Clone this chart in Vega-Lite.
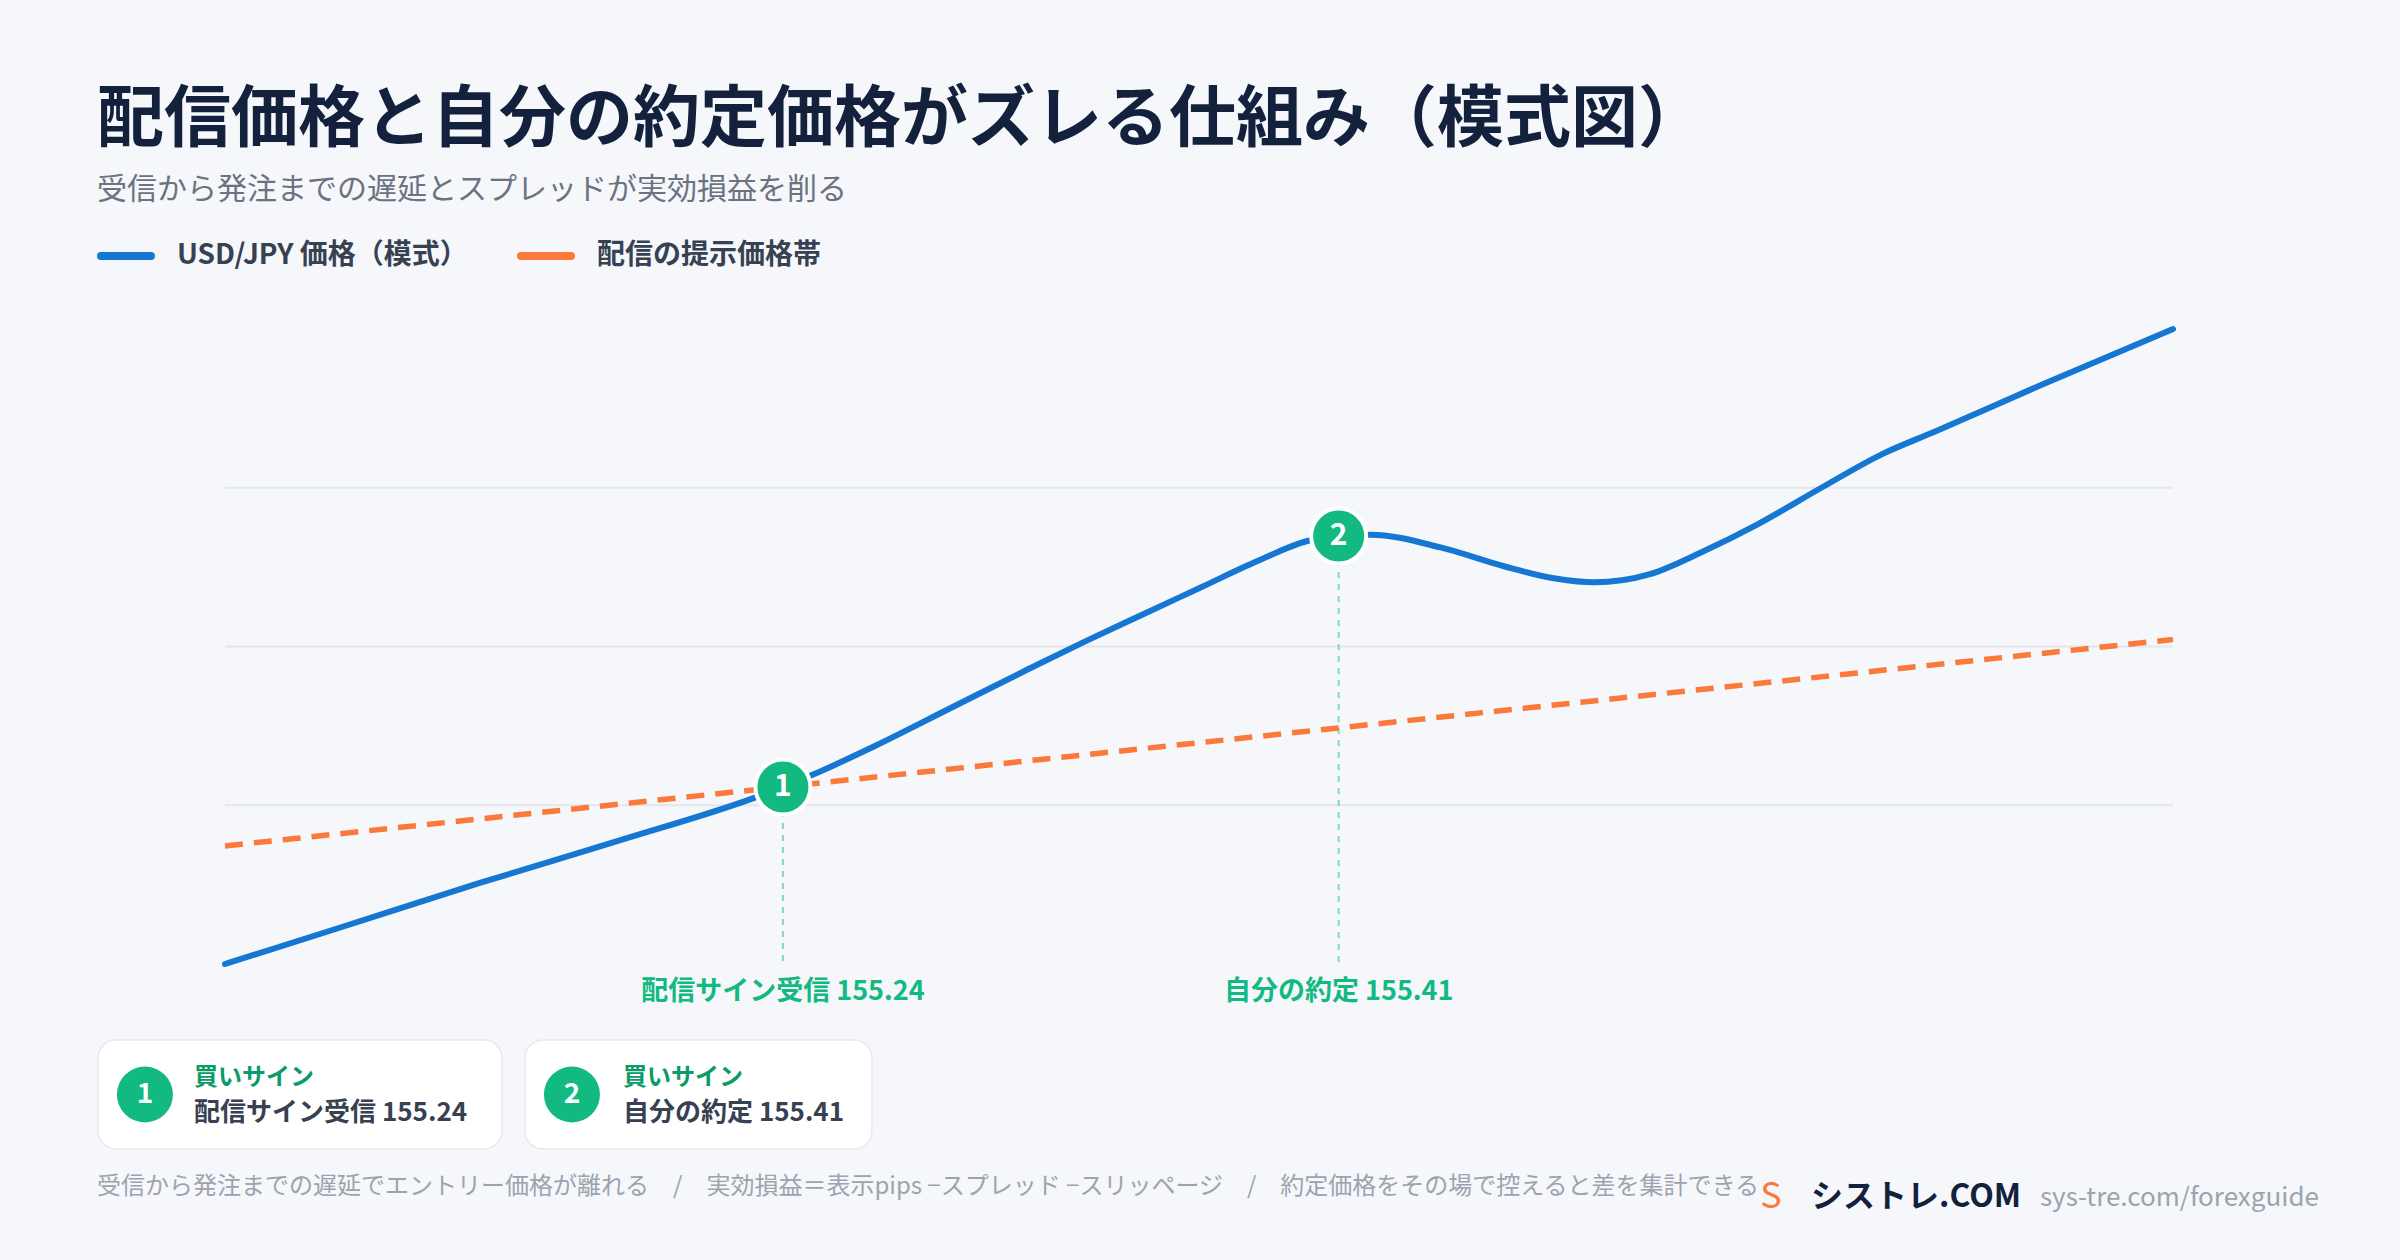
{
  "$schema": "https://vega.github.io/schema/vega-lite/v6.json",
  "width": 2223,
  "height": 940,
  "padding": {"left": 97, "top": 87, "right": 80, "bottom": 20},
  "background": "#f5f7fb",
  "config": {
    "view": {"stroke": null},
    "font": "Noto Sans CJK JP",
    "text": {"font": "Noto Sans CJK JP"}
  },
  "title": {
    "text": "配信価格と自分の約定価格がズレる仕組み（模式図）",
    "subtitle": "受信から発注までの遅延とスプレッドが実効損益を削る",
    "anchor": "start",
    "frame": "group",
    "font": "Noto Sans CJK JP",
    "fontSize": 67,
    "fontWeight": "bold",
    "color": "#13213c",
    "subtitleFont": "Noto Sans CJK JP",
    "subtitleFontSize": 30,
    "subtitleColor": "#6b7280",
    "subtitlePadding": 20,
    "offset": 21
  },
  "datasets": {
    "lines": [
      {"series": "USD/JPY 価格（模式）", "x": 0, "y": 0},
      {"series": "USD/JPY 価格（模式）", "x": 5.92, "y": 5.75},
      {"series": "USD/JPY 価格（模式）", "x": 13.12, "y": 12.8},
      {"series": "USD/JPY 価格（模式）", "x": 20.3, "y": 19.5},
      {"series": "USD/JPY 価格（模式）", "x": 27.2, "y": 26.2},
      {"series": "USD/JPY 価格（模式）", "x": 28.64, "y": 27.87},
      {"series": "USD/JPY 価格（模式）", "x": 30.22, "y": 29.87},
      {"series": "USD/JPY 価格（模式）", "x": 33.36, "y": 34.33},
      {"series": "USD/JPY 価格（模式）", "x": 37.28, "y": 40.36},
      {"series": "USD/JPY 価格（模式）", "x": 41.22, "y": 46.41},
      {"series": "USD/JPY 価格（模式）", "x": 44.16, "y": 50.8},
      {"series": "USD/JPY 価格（模式）", "x": 47.11, "y": 55.05},
      {"series": "USD/JPY 価格（模式）", "x": 50.06, "y": 59.26},
      {"series": "USD/JPY 価格（模式）", "x": 53.0, "y": 63.46},
      {"series": "USD/JPY 価格（模式）", "x": 55.56, "y": 66.61},
      {"series": "USD/JPY 価格（模式）", "x": 57.17, "y": 67.4},
      {"series": "USD/JPY 価格（模式）", "x": 58.8, "y": 67.6},
      {"series": "USD/JPY 価格（模式）", "x": 62.4, "y": 65.6},
      {"series": "USD/JPY 価格（模式）", "x": 65.7, "y": 62.6},
      {"series": "USD/JPY 価格（模式）", "x": 68.3, "y": 60.7},
      {"series": "USD/JPY 価格（模式）", "x": 70.3, "y": 60.1},
      {"series": "USD/JPY 価格（模式）", "x": 73.15, "y": 61.4},
      {"series": "USD/JPY 価格（模式）", "x": 75.9, "y": 65.0},
      {"series": "USD/JPY 価格（模式）", "x": 78.65, "y": 69.2},
      {"series": "USD/JPY 価格（模式）", "x": 81.95, "y": 75.0},
      {"series": "USD/JPY 価格（模式）", "x": 85.07, "y": 80.3},
      {"series": "USD/JPY 価格（模式）", "x": 87.82, "y": 83.9},
      {"series": "USD/JPY 価格（模式）", "x": 93.32, "y": 91.3},
      {"series": "USD/JPY 価格（模式）", "x": 100, "y": 100},
      {"series": "配信の提示価格帯", "x": 0, "y": 18.6},
      {"series": "配信の提示価格帯", "x": 100, "y": 51.1}
    ],
    "grid": [
      {"y": 25, "x": 0, "x2": 100},
      {"y": 50, "x": 0, "x2": 100},
      {"y": 75, "x": 0, "x2": 100}
    ],
    "markers": [
      {"n": "1", "x": 28.64, "y": 27.87, "label": "配信サイン受信 155.24"},
      {"n": "2", "x": 57.17, "y": 67.4, "label": "自分の約定 155.41"}
    ],
    "cards": [
      {"n": "1", "x": -6.52, "x2": 14.22, "y": -11.97, "y2": -29.13, "cx": -4.11, "tx": -1.59, "cy": -20.55, "head": "買いサイン", "body": "配信サイン受信 155.24"},
      {"n": "2", "x": 15.4, "x2": 33.21, "y": -11.97, "y2": -29.13, "cx": 17.81, "tx": 20.43, "cy": -20.55, "head": "買いサイン", "body": "自分の約定 155.41"}
    ]
  },
  "encoding": {
    "x": {"field": "x", "type": "quantitative", "axis": null, "scale": {"domain": [-6.571, 107.546], "nice": false, "zero": false}},
    "y": {"field": "y", "type": "quantitative", "axis": null, "scale": {"domain": [-43.62, 104.41], "nice": false, "zero": false}}
  },
  "layer": [
    {
      "data": {"name": "grid"},
      "mark": {"type": "rule", "stroke": "#e3e6eb", "strokeWidth": 2},
      "encoding": {"x2": {"field": "x2"}}
    },
    {
      "data": {"name": "markers"},
      "mark": {"type": "rule", "stroke": "#7fdcb8", "strokeWidth": 2, "strokeDash": [6, 6]},
      "encoding": {"y2": {"datum": 0}}
    },
    {
      "data": {"name": "lines"},
      "transform": [{"filter": "datum.series === '配信の提示価格帯'"}],
      "mark": {"type": "line", "strokeWidth": 5.5, "strokeDash": [18, 11]},
      "encoding": {
        "color": {
          "field": "series",
          "type": "nominal",
          "scale": {"domain": ["USD/JPY 価格（模式）", "配信の提示価格帯"], "range": ["#1677d2", "#fb7a3b"]},
          "legend": {
            "orient": "none",
            "legendX": 0,
            "legendY": -74,
            "direction": "horizontal",
            "title": null,
            "symbolType": "stroke",
            "symbolSize": 2500,
            "symbolStrokeWidth": 8,
            "symbolDash": [1, 0],
            "labelFont": "Noto Sans CJK JP",
            "labelFontSize": 28,
            "labelFontWeight": "bold",
            "labelColor": "#374151",
            "labelOffset": 22,
            "columnPadding": 37,
            "labelLimit": 600,
            "encode": {"symbols": {"update": {"strokeCap": {"value": "round"}, "strokeDash": {"value": [1, 0]}}}}
          }
        }
      }
    },
    {
      "data": {"name": "lines"},
      "transform": [{"filter": "datum.series === 'USD/JPY 価格（模式）'"}],
      "mark": {"type": "line", "strokeWidth": 6, "strokeCap": "round", "interpolate": "monotone"},
      "encoding": {"color": {"field": "series", "type": "nominal"}}
    },
    {
      "data": {"name": "markers"},
      "mark": {"type": "point", "shape": "circle", "filled": true, "size": 3025, "fill": "#12b981", "stroke": "#ffffff", "strokeWidth": 4, "opacity": 1}
    },
    {
      "data": {"name": "markers"},
      "mark": {"type": "text", "fontSize": 30, "fontWeight": "bold", "color": "#ffffff", "baseline": "middle", "align": "center"},
      "encoding": {"text": {"field": "n"}}
    },
    {
      "data": {"name": "markers"},
      "mark": {"type": "text", "fontSize": 27, "fontWeight": "bold", "color": "#12b981", "baseline": "middle", "align": "center", "dy": 28},
      "encoding": {"y": {"datum": 0}, "text": {"field": "label"}}
    },
    {
      "data": {"name": "cards"},
      "mark": {"type": "rect", "fill": "#ffffff", "stroke": "#e6e9ef", "strokeWidth": 1.5, "cornerRadius": 18},
      "encoding": {"x2": {"field": "x2"}, "y2": {"field": "y2"}}
    },
    {
      "data": {"name": "cards"},
      "mark": {"type": "point", "shape": "circle", "filled": true, "size": 3136, "fill": "#12b981", "opacity": 1},
      "encoding": {"x": {"field": "cx", "type": "quantitative"}, "y": {"field": "cy", "type": "quantitative"}}
    },
    {
      "data": {"name": "cards"},
      "mark": {"type": "text", "fontSize": 28, "fontWeight": "bold", "color": "#ffffff", "baseline": "middle", "align": "center"},
      "encoding": {"x": {"field": "cx", "type": "quantitative"}, "y": {"field": "cy", "type": "quantitative"}, "text": {"field": "n"}}
    },
    {
      "data": {"name": "cards"},
      "mark": {"type": "text", "fontSize": 24, "fontWeight": "bold", "color": "#0b9a68", "baseline": "middle", "align": "left", "dy": -17},
      "encoding": {"x": {"field": "tx", "type": "quantitative"}, "y": {"field": "cy", "type": "quantitative"}, "text": {"field": "head"}}
    },
    {
      "data": {"name": "cards"},
      "mark": {"type": "text", "fontSize": 26, "fontWeight": "bold", "color": "#374151", "baseline": "middle", "align": "left", "dy": 18},
      "encoding": {"x": {"field": "tx", "type": "quantitative"}, "y": {"field": "cy", "type": "quantitative"}, "text": {"field": "body"}}
    },
    {
      "data": {"values": [{"x": -6.571, "y": -35.12, "t": "受信から発注までの遅延でエントリー価格が離れる　/　実効損益＝表示pips −スプレッド −スリッページ　/　約定価格をその場で控えると差を集計できる"}]},
      "mark": {"type": "text", "fontSize": 24, "color": "#9ca3af", "baseline": "middle", "align": "left"},
      "encoding": {"text": {"field": "t"}}
    },
    {
      "data": {"values": [{"x": 79.36, "y": -36.7, "t": "S"}]},
      "mark": {"type": "text", "fontSize": 36, "color": "#fb7a3b", "baseline": "middle", "align": "center"},
      "encoding": {"text": {"field": "t"}}
    },
    {
      "data": {"values": [{"x": 81.42, "y": -36.7, "t": "シストレ.COM"}]},
      "mark": {"type": "text", "fontSize": 32, "fontWeight": "bold", "color": "#13213c", "baseline": "middle", "align": "left"},
      "encoding": {"text": {"field": "t"}}
    },
    {
      "data": {"values": [{"x": 107.49, "y": -36.9, "t": "sys-tre.com/forexguide"}]},
      "mark": {"type": "text", "fontSize": 26, "color": "#9ca3af", "baseline": "middle", "align": "right"},
      "encoding": {"text": {"field": "t"}}
    }
  ]
}
